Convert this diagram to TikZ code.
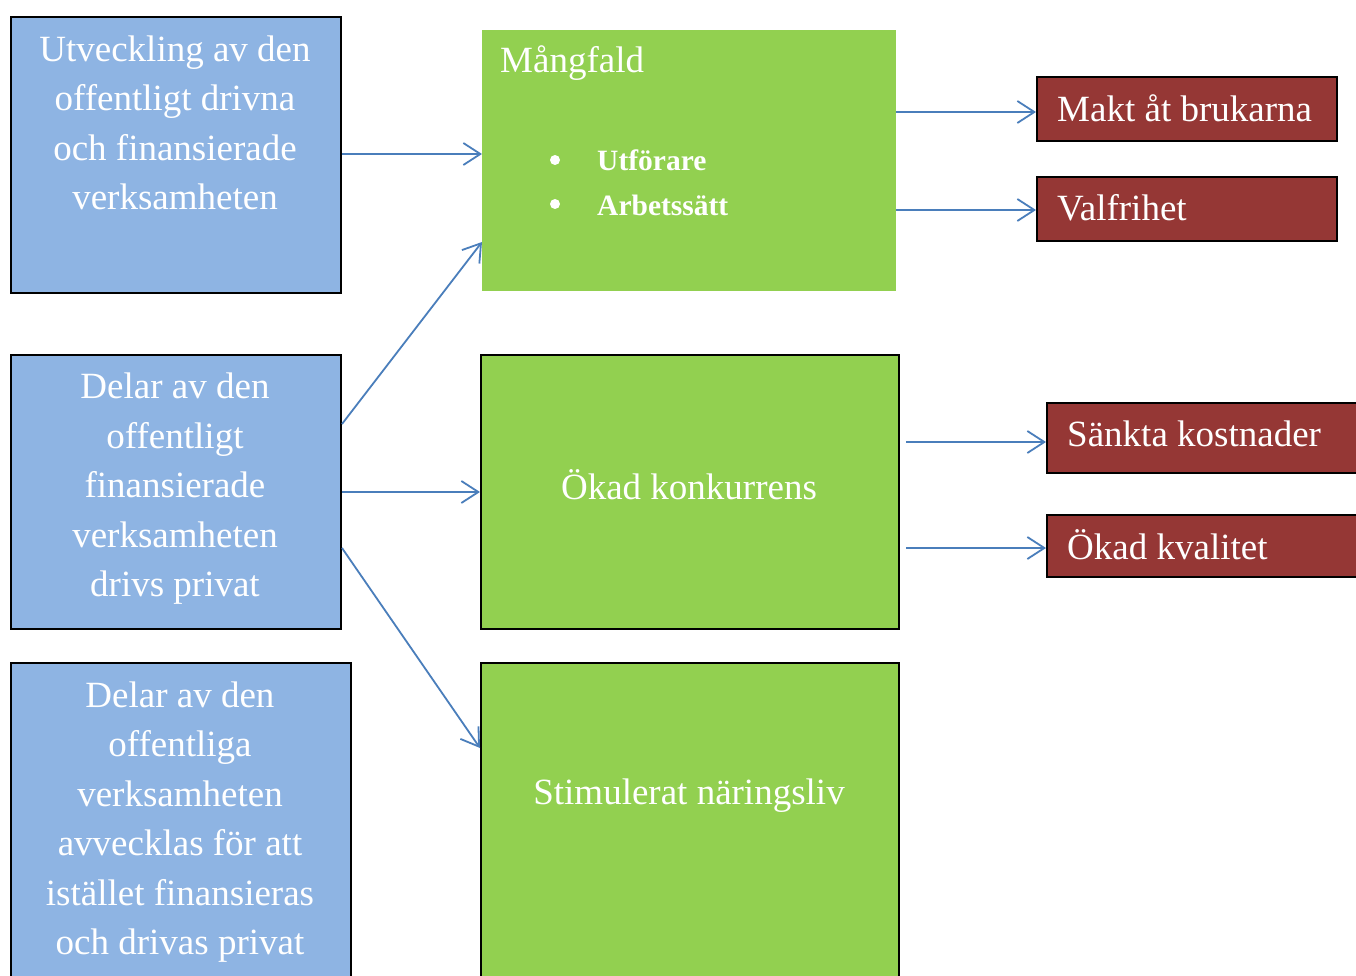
\documentclass[tikz,border=0pt]{standalone}
\usepackage{fontspec}
\setmainfont{Liberation Serif}
\usetikzlibrary{arrows.meta}
\definecolor{bluefill}{HTML}{8EB4E3}
\definecolor{greenfill}{HTML}{92D050}
\definecolor{redfill}{HTML}{953735}
\definecolor{arrowblue}{HTML}{4A7EBB}
\tikzset{
  box/.style={draw=black, line width=2pt, anchor=north west, inner sep=0pt},
  bluebox/.style={box, fill=bluefill},
  greenbox/.style={box, fill=greenfill},
  redbox/.style={box, fill=redfill},
  bigtext/.style={text=white, align=center, font=\fontsize{37}{49.5}\selectfont, inner sep=0pt},
  redtext/.style={text=white, anchor=west, font=\fontsize{37}{43}\selectfont, inner sep=0pt},
  conn/.style={draw=arrowblue, line width=1.8pt, -{Straight Barb[length=17pt,width=22pt,line width=1.8pt]}}
}
\begin{document}
\begin{tikzpicture}[x=1pt,y=-1pt]
\useasboundingbox (0,0) rectangle (1356,976);
\clip (0,0) rectangle (1356,976);
\fill[white] (0,0) rectangle (1356,976);
% left boxes
\node[bluebox, minimum width=330pt, minimum height=276pt] (b1) at (10,16) {};
\node[bluebox, minimum width=330pt, minimum height=274pt] (b2) at (10,354) {};
\node[bluebox, minimum width=340pt, minimum height=340pt] (b3) at (10,662) {};
% middle boxes
\node[greenbox, draw=greenfill, line width=1pt, minimum width=413pt, minimum height=260pt] (g1) at (482,30) {};
\node[greenbox, minimum width=418pt, minimum height=274pt] (g2) at (480,354) {};
\node[greenbox, minimum width=418pt, minimum height=340pt] (g3) at (480,662) {};
% right boxes
\node[redbox, minimum width=300pt, minimum height=64pt] (r1) at (1036,76) {};
\node[redbox, minimum width=300pt, minimum height=64pt] (r2) at (1036,176) {};
\node[redbox, minimum width=330pt, minimum height=70pt] (r3) at (1046,402) {};
\node[redbox, minimum width=330pt, minimum height=62pt] (r4) at (1046,514) {};
% texts
\node[bigtext] (t1) at (175,123) {Utveckling av den\\offentligt drivna\\och finansierade\\verksamheten};
\node[bigtext] (t2) at (175,489) {Delar av den\\offentligt\\finansierade\\verksamheten\\drivs privat};
\node[bigtext] (t3) at (180,822) {Delar av den\\offentliga\\verksamheten\\avvecklas för att\\istället finansieras\\och drivas privat};
\node[bigtext, anchor=west] (tm) at (500,63) {Mångfald};
\node[circle, fill=white, inner sep=0pt, minimum size=10pt] (d1) at (555,160) {};
\node[circle, fill=white, inner sep=0pt, minimum size=10pt] (d2) at (555,204) {};
\node[text=white, anchor=west, inner sep=0pt, font=\fontsize{29.5}{34}\selectfont\bfseries] (u1) at (597,160) {Utförare};
\node[text=white, anchor=west, inner sep=0pt, font=\fontsize{29.5}{34}\selectfont\bfseries] (u2) at (597,205) {Arbetssätt};
\node[bigtext] (tk) at (689,485) {Ökad konkurrens};
\node[bigtext] (ts) at (689,796) {Stimulerat näringsliv};
\node[redtext] (rt1) at (1057,108) {Makt åt brukarna};
\node[redtext] (rt2) at (1057,208) {Valfrihet};
\node[redtext] (rt3) at (1067,434) {Sänkta kostnader};
\node[redtext] (rt4) at (1067,545) {Ökad kvalitet};
% connectors
\draw[conn] (b1.east |- 0,154) -- (g1.west |- 0,154);
\draw[conn] (b2.east |- 0,424) -- (g1.west |- 0,242);
\draw[conn] (b2.east |- 0,492) -- (g2.west |- 0,492);
\draw[conn] (b2.east |- 0,548) -- (g3.west |- 0,748);
\draw[conn] (g1.east |- 0,112) -- (r1.west |- 0,112);
\draw[conn] (g1.east |- 0,210) -- (r2.west |- 0,210);
\coordinate (c3) at (906,442);
\coordinate (c4) at (906,548);
\draw[conn] (c3) -- (r3.west |- 0,442);
\draw[conn] (c4) -- (r4.west |- 0,548);
\end{tikzpicture}
\end{document}
